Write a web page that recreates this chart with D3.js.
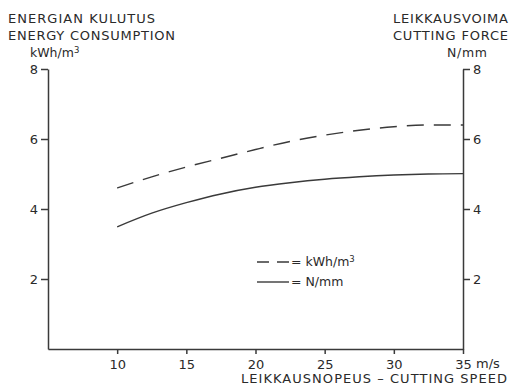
<!DOCTYPE html>
<html>
<head>
<meta charset="utf-8">
<script src="https://cdn.jsdelivr.net/npm/d3@7"></script>
<style>
  html, body { margin: 0; padding: 0; background: #fff; }
  svg { display: block; }
  text { font-family: "DejaVu Sans", sans-serif; fill: #2a2a2a; }
</style>
</head>
<body>
<svg id="chart" width="513" height="388"></svg>
<script>
// Cutting speed (m/s) and the two measured quantities
const speeds = [10, 12.5, 15, 17.5, 20, 22.5, 25, 27.5, 30, 32.5, 35];
const energyKWh = [4.6, 4.92, 5.2, 5.45, 5.7, 5.93, 6.11, 6.25, 6.35, 6.4, 6.4];
const forceNmm = [3.49, 3.88, 4.18, 4.43, 4.62, 4.75, 4.85, 4.92, 4.97, 5.0, 5.01];
const xTicks = [10, 15, 20, 25, 30, 35];
const yTicks = [2, 4, 6, 8];

const svg = d3.select("#chart");
const ink = "#3a3a3a";

const x = d3.scaleLinear().domain([5, 35]).range([48, 463]);
const y = d3.scaleLinear().domain([0, 8]).range([349, 69]);

function styleAxis(g) {
  g.selectAll("path.domain").attr("stroke", ink).attr("stroke-width", 1.5);
  g.selectAll(".tick line").attr("stroke", ink).attr("stroke-width", 1.5);
  g.selectAll(".tick text")
    .style("font-family", "DejaVu Sans, sans-serif")
    .style("font-size", "13px")
    .attr("fill", "#2a2a2a");
}

// left axis: energy consumption
svg.append("g")
  .attr("transform", `translate(${x(5)},0)`)
  .call(d3.axisLeft(y).tickValues(yTicks).tickSize(7).tickSizeOuter(0).tickPadding(3))
  .call(styleAxis);

// right axis: cutting force
svg.append("g")
  .attr("transform", `translate(${x(35)},0)`)
  .call(d3.axisRight(y).tickValues(yTicks).tickSize(7).tickSizeOuter(0).tickPadding(3))
  .call(styleAxis);

// bottom axis: cutting speed
svg.append("g")
  .attr("transform", `translate(0,${y(0)})`)
  .call(d3.axisBottom(x).tickValues(xTicks).tickSize(5).tickSizeOuter(0).tickPadding(6))
  .call(styleAxis);

svg.append("text")
  .attr("x", 476).attr("y", 368)
  .style("font-size", "13px")
  .text("m/s");

// curves
const line = d3.line()
  .x((d, i) => x(speeds[i]))
  .y(d => y(d))
  .curve(d3.curveMonotoneX);

svg.append("path")
  .datum(energyKWh)
  .attr("d", line)
  .attr("fill", "none")
  .attr("stroke", ink)
  .attr("stroke-width", 1.4)
  .attr("stroke-dasharray", "17,10");

svg.append("path")
  .datum(forceNmm)
  .attr("d", line)
  .attr("fill", "none")
  .attr("stroke", ink)
  .attr("stroke-width", 1.4);

// axis titles
function label(txt, xPos, yPos, width, size) {
  return svg.append("text")
    .attr("x", xPos).attr("y", yPos)
    .attr("textLength", width)
    .attr("lengthAdjust", "spacing")
    .style("font-size", (size || 13) + "px")
    .text(txt);
}

label("ENERGIAN KULUTUS", 8, 23, 147);
label("ENERGY CONSUMPTION", 8, 40, 167);
const unitL = svg.append("text").attr("x", 30).attr("y", 57).style("font-size", "12.5px");
unitL.append("tspan").text("kWh/m");
unitL.append("tspan").attr("dy", -4).style("font-size", "8.5px").text("3");

label("LEIKKAUSVOIMA", 393, 23, 115);
label("CUTTING FORCE", 393, 40, 115);
label("N/mm", 447, 57, 40, 12.5);

label("LEIKKAUSNOPEUS – CUTTING SPEED", 241, 383, 266);

// legend
const lg = svg.append("g");
lg.append("line")
  .attr("x1", 257).attr("x2", 289).attr("y1", 262).attr("y2", 262)
  .attr("stroke", ink).attr("stroke-width", 1.4).attr("stroke-dasharray", "12,8");
lg.append("line")
  .attr("x1", 257).attr("x2", 289).attr("y1", 282).attr("y2", 282)
  .attr("stroke", ink).attr("stroke-width", 1.4);
const t1 = lg.append("text").attr("x", 291).attr("y", 266).style("font-size", "12.5px");
t1.append("tspan").text("= kWh/m");
t1.append("tspan").attr("dy", -4).style("font-size", "8.5px").text("3");
lg.append("text").attr("x", 291).attr("y", 286).style("font-size", "12.5px").text("= N/mm");
</script>
</body>
</html>
